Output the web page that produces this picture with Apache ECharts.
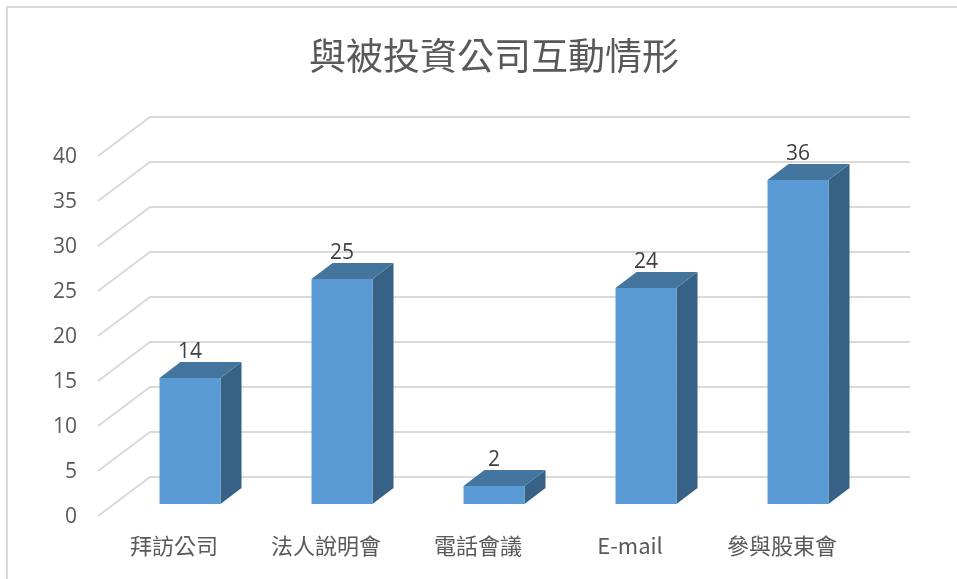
<!DOCTYPE html>
<html>
<head>
<meta charset="utf-8">
<script src="https://cdn.jsdelivr.net/npm/echarts@6/dist/echarts.min.js"></script>
<style>
  html, body { margin: 0; padding: 0; background: #fff; }
  #chart { width: 957px; height: 579px; }
</style>
</head>
<body>
<div id="chart"></div>
<script>
// data
var categories = ["拜訪公司", "法人說明會", "電話會議", "E-mail", "參與股東會"];
var values = [14, 25, 2, 24, 36];
var yTicks = [0, 5, 10, 15, 20, 25, 30, 35, 40];
var chartTitle = "與被投資公司互動情形";

// fake 3d offsets in px, relative to the plane the bar fronts stand on
var FRONT = [-16, 12];
var BACK = [36, -27];
var DEPTH = [21, -16];
var BAR_W = 61;

var chart = echarts.init(document.getElementById("chart"));

// back wall grid lines + side wall diagonals, with the y labels on the front edge
function renderWall(params, api) {
  var v = api.value(1);
  var y = api.coord([0, v])[1];
  var cs = params.coordSys;
  var x0 = cs.x;
  var x1 = cs.x + cs.width;
  var pts = [
    [x0 + FRONT[0], y + FRONT[1]],
    [x0 + BACK[0], y + BACK[1]],
    [x1 + BACK[0], y + BACK[1]]
  ];
  return {
    type: "group",
    children: [
      {
        type: "polyline",
        shape: { points: pts },
        style: { stroke: "#d9d9d9", lineWidth: 2, fill: null }
      },
      {
        type: "text",
        style: {
          text: String(v),
          x: x0 - 37,
          y: y + FRONT[1] + 1,
          align: "right",
          verticalAlign: "middle",
          fill: "#595959",
          font: '21px "Open Sans"'
        }
      }
    ]
  };
}

// 3d-looking bar: front, top and right side
function renderBar(params, api) {
  var idx = api.value(0);
  var v = api.value(1);
  var top = api.coord([idx, v]);
  var base = api.coord([idx, 0]);
  var l = top[0] - BAR_W / 2;
  var r = top[0] + BAR_W / 2;
  var t = top[1];
  var b = base[1];
  var dx = DEPTH[0];
  var dy = DEPTH[1];
  return {
    type: "group",
    children: [
      {
        type: "polygon",
        shape: { points: [[r, t], [r + dx, t + dy], [r + dx, b + dy], [r, b]] },
        style: { fill: "#386186" }
      },
      {
        type: "polygon",
        shape: { points: [[l, t], [l + dx, t + dy], [r + dx, t + dy], [r, t]] },
        style: { fill: "#44759f" }
      },
      {
        type: "polygon",
        shape: { points: [[l, t], [r, t], [r, b], [l, b]] },
        style: { fill: "#5b9bd5" }
      },
      {
        type: "text",
        style: {
          text: String(v),
          x: top[0],
          y: t + dy + 1,
          align: "center",
          verticalAlign: "bottom",
          fill: "#404040",
          font: '21px "Open Sans"'
        }
      },
      {
        type: "text",
        style: {
          text: categories[idx],
          x: top[0] + FRONT[0],
          y: b + 42,
          align: "center",
          verticalAlign: "middle",
          fill: "#595959",
          font: '22px "Noto Sans CJK TC"'
        }
      }
    ]
  };
}

var option = {
  animation: false,
  title: {
    text: chartTitle,
    left: 304,
    top: 32,
    textStyle: {
      fontFamily: "Noto Sans CJK TC",
      fontSize: 37,
      fontWeight: "normal",
      color: "#595959"
    }
  },
  grid: {
    left: 114,
    right: 83,
    top: 144,
    bottom: 75
  },
  xAxis: {
    type: "category",
    data: categories,
    axisLine: { show: false },
    axisTick: { show: false },
    axisLabel: { show: false }
  },
  yAxis: {
    type: "value",
    min: 0,
    max: 40,
    interval: 5,
    axisLine: { show: false },
    axisTick: { show: false },
    axisLabel: { show: false },
    splitLine: { show: false }
  },
  graphic: [
    {
      type: "line",
      shape: { x1: 6, y1: 7, x2: 957, y2: 7 },
      style: { stroke: "#d9d9d9", lineWidth: 2 }
    },
    {
      type: "line",
      shape: { x1: 7, y1: 6, x2: 7, y2: 579 },
      style: { stroke: "#d9d9d9", lineWidth: 2 }
    }
  ],
  series: [
    {
      type: "custom",
      silent: true,
      renderItem: renderWall,
      data: yTicks.map(function (v) { return [0, v]; }),
      z: 1
    },
    {
      type: "custom",
      renderItem: renderBar,
      data: values.map(function (v, i) { return [i, v]; }),
      z: 2
    }
  ]
};

chart.setOption(option);
</script>
</body>
</html>
